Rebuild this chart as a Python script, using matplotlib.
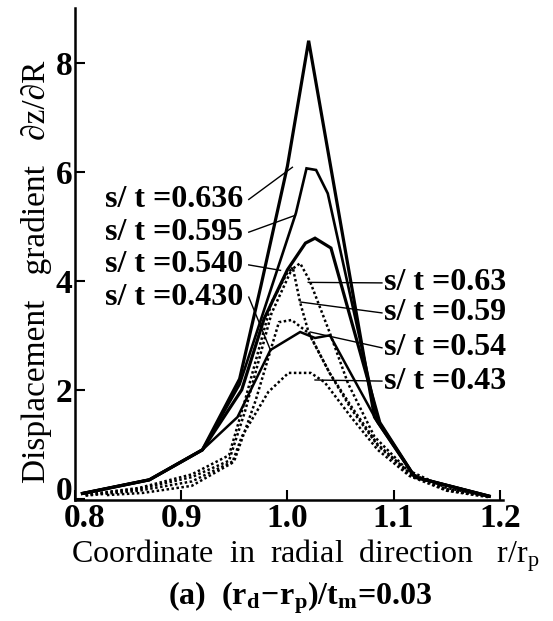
import numpy as np
import matplotlib
matplotlib.use('Agg')
import matplotlib.pyplot as plt
import matplotlib.transforms as mtransforms

plt.rcParams['font.family'] = ['Liberation Serif', 'DejaVu Serif']
plt.rcParams['mathtext.fontset'] = 'custom'
plt.rcParams['mathtext.rm'] = 'Liberation Serif'
plt.rcParams['mathtext.it'] = 'Liberation Serif'
plt.rcParams['mathtext.bf'] = 'Liberation Serif:bold'

# solid curves (s/t = 0.636, 0.595, 0.540, 0.430)
r_636 = [0.807, 0.87, 0.92, 0.955, 0.975, 1.0, 1.02, 1.082, 1.12, 1.19]
v_636 = [0.10, 0.35, 0.90, 2.20, 3.90, 6.10, 8.40, 1.50, 0.40, 0.05]

r_595 = [0.807, 0.87, 0.92, 0.955, 1.008, 1.018, 1.027, 1.038, 1.085, 1.12, 1.19]
v_595 = [0.10, 0.35, 0.90, 2.10, 5.24, 6.06, 6.03, 5.60, 1.45, 0.40, 0.05]

r_540 = [0.807, 0.87, 0.92, 0.957, 0.978, 1.0, 1.017, 1.026, 1.041, 1.087, 1.12, 1.19]
v_540 = [0.10, 0.35, 0.90, 2.00, 3.30, 4.20, 4.69, 4.78, 4.60, 1.40, 0.40, 0.05]

r_430 = [0.807, 0.87, 0.92, 0.953, 0.984, 1.012, 1.026, 1.04, 1.085, 1.12, 1.19]
v_430 = [0.10, 0.35, 0.90, 1.50, 2.73, 3.06, 2.95, 3.00, 1.40, 0.40, 0.05]

# dotted curves (s/t = 0.63, 0.59, 0.54, 0.43)
r_63 = [0.81, 0.86, 0.91, 0.945, 0.96, 0.985, 1.0, 1.012, 1.021, 1.04, 1.057, 1.082, 1.113, 1.15, 1.19]
v_63 = [0.08, 0.20, 0.45, 0.80, 1.80, 3.60, 4.15, 4.32, 4.00, 3.04, 2.12, 1.14, 0.53, 0.20, 0.05]

r_59 = [0.81, 0.86, 0.91, 0.945, 0.96, 0.985, 1.005, 1.012, 1.02, 1.04, 1.06, 1.085, 1.115, 1.15, 1.19]
v_59 = [0.07, 0.18, 0.40, 0.70, 1.60, 3.40, 4.25, 3.60, 3.05, 2.30, 1.70, 1.00, 0.48, 0.18, 0.05]

r_54 = [0.81, 0.86, 0.91, 0.95, 0.97, 0.992, 1.004, 1.02, 1.04, 1.06, 1.085, 1.115, 1.15, 1.19]
v_54 = [0.06, 0.15, 0.32, 0.70, 1.80, 3.24, 3.28, 3.04, 2.30, 1.65, 0.98, 0.45, 0.16, 0.04]

r_43 = [0.83, 0.864, 0.91, 0.948, 0.957, 0.982, 1.001, 1.022, 1.035, 1.06, 1.085, 1.115, 1.15, 1.19]
v_43 = [0.07, 0.11, 0.24, 0.66, 1.14, 1.96, 2.31, 2.31, 2.14, 1.50, 0.90, 0.42, 0.15, 0.03]

solid_labels = ['s/ t =0.636', 's/ t =0.595', 's/ t =0.540', 's/ t =0.430']
dotted_labels = ['s/ t =0.63', 's/ t =0.59', 's/ t =0.54', 's/ t =0.43']

fig = plt.figure(figsize=(5.53, 6.21), dpi=100)
ax = fig.add_axes([75/553, 1-500/621, 428/553, 492/621])

solid = [(r_636, v_636, 2.3), (r_595, v_595, 1.9), (r_540, v_540, 2.3), (r_430, v_430, 1.8)]
for r, v, lw in solid:
    ax.plot(r, v, color='black', lw=lw, solid_joinstyle='miter')
for r, v in [(r_63, v_63), (r_59, v_59), (r_54, v_54), (r_43, v_43)]:
    ax.plot(r, v, color='black', lw=1.8, linestyle=(0, (1, 1.0)))

# leader lines, left labels (solid curves)
left_tip = [(1.0047, 6.08), (1.0075, 5.20), (0.9935, 4.19), (0.984, 2.73)]
left_txt = [5.49, 4.89, 4.29, 3.70]
for lab, (tx, ty), y in zip(solid_labels, left_tip, left_txt):
    ax.plot([0.9636, tx], [y, ty], color='black', lw=1.0)
    ax.text(0.958, y, lab, ha='right', va='center', fontsize=23, fontweight='bold')

# leader lines, right labels (dotted curves)
right_tip = [(1.0196, 3.97), (1.0121, 3.61), (1.0215, 3.06), (1.026, 2.18)]
right_txt = [3.96, 3.41, 2.77, 2.16]
for lab, (tx, ty), y in zip(dotted_labels, right_tip, right_txt):
    ax.plot([tx, 1.089], [ty, y], color='black', lw=1.0)
    ax.text(1.091, y, lab, ha='left', va='center', fontsize=23, fontweight='bold')

ax.set_xlim(0.8, 1.203)
ax.set_ylim(-0.02, 9.0)
ax.set_xticks([0.8, 0.9, 1.0, 1.1, 1.2])
ax.set_xticklabels(['0.8', '0.9', '1.0', '1.1', '1.2'])
ax.set_yticks([0, 2, 4, 6, 8])
for s in ['top', 'right']:
    ax.spines[s].set_visible(False)
for s in ['left', 'bottom']:
    ax.spines[s].set_linewidth(1.8)
ax.tick_params(direction='in', length=7, width=1.5, labelsize=24, pad=2)
for t in ax.get_xticklabels() + ax.get_yticklabels():
    t.set_fontweight('bold')
# first x label sits a bit right of its tick, and the y "0" a bit higher
lab0 = ax.get_xticklabels()[0]
lab0.set_transform(lab0.get_transform() + mtransforms.ScaledTranslation(10/100, 0, fig.dpi_scale_trans))
ylab0 = ax.get_yticklabels()[0]
ylab0.set_transform(ylab0.get_transform() + mtransforms.ScaledTranslation(0, 11/100, fig.dpi_scale_trans))

fig.text(37/553, 1-272/621, 'Displacement   gradient   \u2202z/\u2202R', rotation=90,
         ha='center', va='center', fontsize=24)
fig.text(305/553, 1-556/621, r'Coordinate  in  radial  direction   $\mathrm{r/r_p}$',
         ha='center', va='center', fontsize=23)
fig.text(300/553, 1-598/621, r'(a)  $\mathbf{(r_d\!-\!r_p)/t_m}$=0.03',
         ha='center', va='center', fontsize=23, fontweight='bold')

fig.savefig('out.png', dpi=100)
